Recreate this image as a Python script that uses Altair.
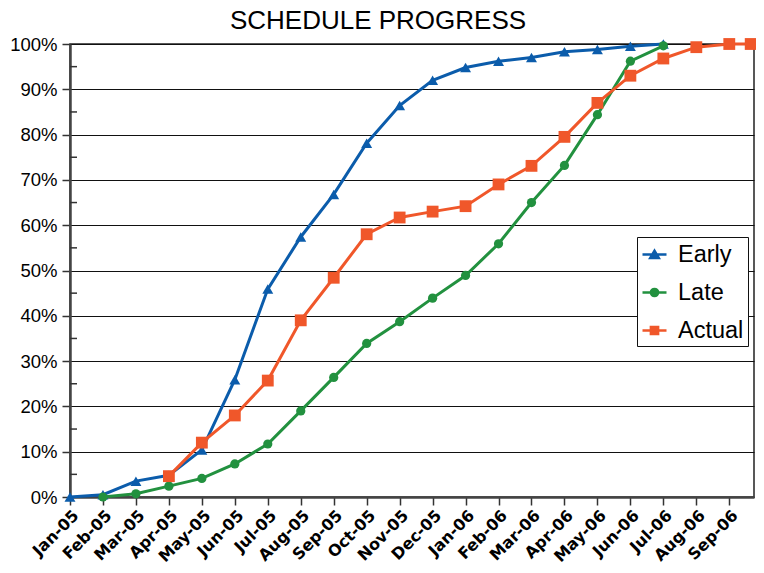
import json
import altair as alt
import pandas as pd

months = ["Jan-05", "Feb-05", "Mar-05", "Apr-05", "May-05", "Jun-05", "Jul-05",
          "Aug-05", "Sep-05", "Oct-05", "Nov-05", "Dec-05", "Jan-06", "Feb-06",
          "Mar-06", "Apr-06", "May-06", "Jun-06", "Jul-06", "Aug-06", "Sep-06"]

series_names = ["Early", "Late", "Actual"]
series_colors = ["#0b5cab", "#22913f", "#f0572a"]

# Early: Jan-05 .. Jul-06
early_x = list(range(0, 19))
early = [0.0, 0.5, 3.5, 4.8, 10.4, 25.9, 45.9, 57.4, 66.8, 78.1, 86.4, 92.0,
         94.8, 96.2, 97.0, 98.3, 98.8, 99.5, 100.0]
# Late: Feb-05 .. Jul-06
late_x = list(range(1, 19))
late = [0.0, 0.7, 2.4, 4.1, 7.3, 11.7, 19.0, 26.4, 33.9, 38.7, 43.9, 48.9,
        55.9, 65.0, 73.2, 84.4, 96.2, 99.6]
# Actual: Apr-05 .. Sep-06, plus a final reading late in Sep-06
actual_x = list(range(3, 21)) + [20.65]
actual = [4.6, 12.0, 18.0, 25.7, 39.0, 48.4, 58.0, 61.7, 63.0, 64.2, 69.0, 73.1,
          79.5, 87.0, 93.0, 96.8, 99.3, 100.0, 100.0]

y_major = list(range(0, 101, 10))
y_minor = list(range(5, 100, 10))

rows = []
for name, xs, vs in [("Early", early_x, early), ("Late", late_x, late), ("Actual", actual_x, actual)]:
    for xv, v in zip(xs, vs):
        rows.append({"series": name, "x": xv, "value": v})
df = pd.DataFrame(rows)
minor_df = pd.DataFrame({"v": y_minor})

color_scale = alt.Scale(domain=series_names, range=series_colors)

x_enc = alt.X(
    "x:Q",
    scale=alt.Scale(domain=[0, 20.75], nice=False, zero=False),
    axis=alt.Axis(
        values=list(range(len(months))),
        labelExpr=json.dumps(months) + "[datum.value]",
        labelAngle=-45,
        labelOverlap=False,
        labelFont="DejaVu Sans",
        labelFontWeight="bold",
        labelFontSize=16,
        labelColor="#000000",
        labelPadding=2,
        tickSize=8,
        tickColor="#333333",
        tickWidth=1.5,
        domainColor="#444444",
        domainWidth=2.5,
        grid=False,
        title=None,
    ),
)
y_enc = alt.Y(
    "value:Q",
    scale=alt.Scale(domain=[0, 100], nice=False),
    axis=alt.Axis(
        values=y_major,
        labelExpr="datum.value + '%'",
        labelFont="Liberation Sans",
        labelFontSize=18.5,
        labelColor="#000000",
        labelPadding=5,
        tickSize=8,
        tickColor="#333333",
        tickWidth=1.5,
        domainColor="#444444",
        domainWidth=2.5,
        grid=True,
        gridColor="#111111",
        gridWidth=1.2,
        title=None,
    ),
)

shapes = {"Early": ("triangle-up", 120), "Late": ("circle", 85), "Actual": ("square", 140)}
data_layers = []
for name, col in zip(series_names, series_colors):
    shp, sz = shapes[name]
    sub = alt.Chart(df).transform_filter(alt.datum.series == name)
    data_layers.append(sub.mark_line(strokeWidth=3, color=col).encode(x=x_enc, y=y_enc))
    data_layers.append(
        sub.mark_point(shape=shp, size=sz, filled=True, opacity=1, color=col)
        .encode(x=x_enc, y=y_enc)
    )

minor = alt.Chart(minor_df).mark_rule(color="#333333", strokeWidth=1.5).encode(
    y=alt.Y("v:Q", scale=alt.Scale(domain=[0, 100], nice=False)),
    x=alt.value(0), x2=alt.value(7),
)

legend_paths = [
    "M-1,0L1,0M-0.36,0.3L0,-0.32L0.36,0.3Z",
    "M-1,0L1,0M-0.3,0A0.3,0.3,0,1,0,0.3,0A0.3,0.3,0,1,0,-0.3,0Z",
    "M-1,0L1,0M-0.3,-0.3L0.3,-0.3L0.3,0.3L-0.3,0.3Z",
]
leg = alt.Legend(title=None, orient="none", legendX=567, legendY=193)
legend_layer = alt.Chart(df).transform_filter("false").mark_point(
    filled=True, opacity=1, strokeWidth=2.5
).encode(
    color=alt.Color("series:N", scale=color_scale, legend=leg),
    stroke=alt.Stroke("series:N", scale=color_scale, legend=leg),
    shape=alt.Shape("series:N", scale=alt.Scale(domain=series_names, range=legend_paths), legend=leg),
)

chart = alt.layer(*data_layers, minor, legend_layer).properties(
    width=684,
    height=453,
    autosize=alt.AutoSizeParams(type="none"),
    padding={"left": 62, "top": 36, "right": 2, "bottom": 68},
    title=alt.TitleParams(
        "SCHEDULE PROGRESS",
        font="Liberation Sans",
        fontSize=26,
        fontWeight="normal",
        color="#000000",
        anchor="middle",
        dx=-34,
        offset=1,
    ),
).configure_view(
    fill="#b0c4d8", stroke="#222222", strokeWidth=1.5
).configure_legend(
    fillColor="#ffffff",
    strokeColor="#111111",
    padding=4,
    labelFont="Liberation Sans",
    labelFontSize=23.5,
    labelColor="#000000",
    symbolSize=576,
    symbolStrokeWidth=2.5,
    symbolOpacity=1,
    rowPadding=13,
    labelOffset=10,
)

chart.save("out.html", embed_options={"renderer": "svg", "actions": False})
